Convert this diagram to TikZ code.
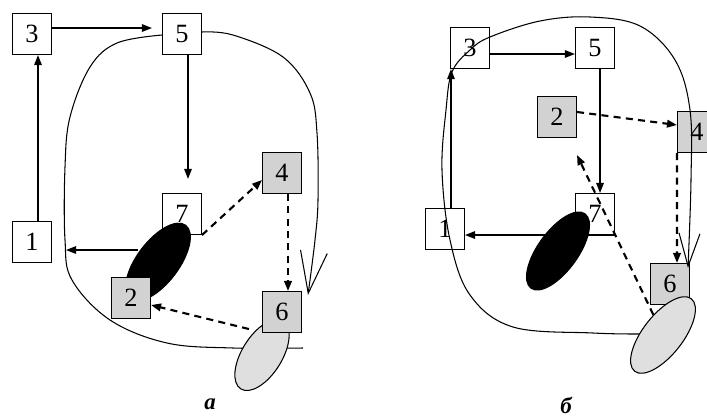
\documentclass[tikz,border=0pt]{standalone}
\usepackage{fontspec}
\setmainfont{Liberation Serif}
\usetikzlibrary{arrows.meta,shapes.geometric}

\begin{document}
\begin{tikzpicture}[x=0.02cm,y=-0.02cm,
  blk/.style={draw, line width=0.6pt, fill=white, minimum width=0.78cm, minimum height=0.82cm, inner sep=0pt, font=\fontsize{15}{17}\selectfont},
  gblk/.style={blk, fill=gray!35},
  oval/.style={ellipse, draw, line width=0.6pt, inner sep=0pt},
  arr/.style={line width=0.8pt, -{Triangle[length=0.2cm,width=0.15cm]}},
  darr/.style={arr, line width=1.2pt, dash pattern=on 4pt off 3pt},
  ring/.style={line width=0.6pt},
  lbl/.style={font=\fontsize{13}{15}\selectfont\bfseries\itshape}]
  \path[use as bounding box] (0,0) rectangle (707,416);

  % а
  \draw[ring] plot[smooth, tension=0.6] coordinates {(162,35) (117,43) (90,67) (70,117) (65,167) (65,240) (72,280) (110,320) (167,343) (233,348) (303,348)};
  \draw[ring, -{Straight Barb[length=0.84cm,width=0.54cm]}] plot[smooth, tension=0.6] coordinates {(202,32) (233,35) (283,57) (310,93) (317,133) (318,200) (315,240) (308,295)};
  \node[blk] (a3) at (32,34) {3};
  \node[blk] (a5) at (182,34) {5};
  \node[blk] (a1) at (32,242) {1};
  \node[blk] (a7) at (182,214) {7};
  \node[oval, fill=black, minimum width=1.84cm, minimum height=0.84cm, rotate=53] (aB) at (158,262) {};
  \node[gblk] (a2) at (131,298) {2};
  \node[gblk] (a4) at (282,173) {4};
  \node[oval, fill=gray!25, minimum width=1.6cm, minimum height=0.8cm, rotate=58] (aG) at (262,355) {};
  \node[gblk] (a6) at (282,312) {6};
  \coordinate (aL) at (138,250);
  \draw[arr, shorten >=0.2cm] ([yshift=0.12cm]a3.east) -- ([yshift=0.12cm]a5.west);
  \draw[arr] ([xshift=0.12cm]a1.north) -- ([xshift=0.12cm]a3.south);
  \draw[arr, shorten >=0.28cm] ([xshift=0.12cm]a5.south) -- ([xshift=0.12cm]a7.north);
  \draw[arr, shorten >=0.28cm] (aL) -- (aL -| a1.east);
  \draw[darr] (a7.south east) -- ([yshift=-0.14cm]a4.west);
  \draw[darr] ([xshift=0.12cm]a4.south) -- ([xshift=0.12cm]a6.north);
  \draw[darr] ([xshift=-0.26cm,yshift=0.08cm]a6.south west) -- ([yshift=-0.14cm]a2.east);
  \node[lbl] (la) at (210,404) {а};

  % б
  \node[blk] (b3) at (470,48) {3};
  \node[blk] (b5) at (595,48) {5};
  \node[gblk] (b2) at (557,117) {2};
  \node[gblk] (b4) at (697,132) {4};
  \node[blk] (b1) at (445,229) {1};
  \node[blk] (b7) at (595,214) {7};
  \node[gblk] (b6) at (670,284) {6};
  \draw[ring, -{Straight Barb[length=0.66cm,width=0.42cm]}] plot[smooth, tension=0.6] coordinates {(640,334) (593,333) (513,327) (470,295) (450,240) (442,170) (446,110) (452,72) (470,50) (490,37) (540,21) (590,17) (640,26) (675,60) (690,110) (691,180) (688,268)};
  \node[oval, fill=black, minimum width=1.84cm, minimum height=0.8cm, rotate=54] (bB) at (558,251) {};
  \node[oval, fill=gray!25, minimum width=1.84cm, minimum height=0.8cm, rotate=52] (bG) at (663,335) {};
  \coordinate (bT) at (577,155);
  \coordinate (b1t) at ([xshift=0.12cm]b1.north);
  \draw[arr] ([yshift=-0.12cm]b3.east) -- ([yshift=-0.12cm]b5.west);
  \draw[arr] (b1t) -- (b1t |- b3.south);
  \draw[arr] ([xshift=0.1cm]b5.south) -- ([xshift=0.1cm]b7.north);
  \draw[arr] (b7.south east) -- (b7.south east -| b1.east);
  \draw[darr] ([yshift=0.1cm]b2.east) -- ([yshift=0.14cm]b4.west);
  \draw[darr] ([xshift=-0.4cm]b4.south) -- ([xshift=0.14cm]b6.north);
  \draw[darr] (bG) -- (bT);
  \node[lbl] (lb) at (566,405) {б};
\end{tikzpicture}
\end{document}
